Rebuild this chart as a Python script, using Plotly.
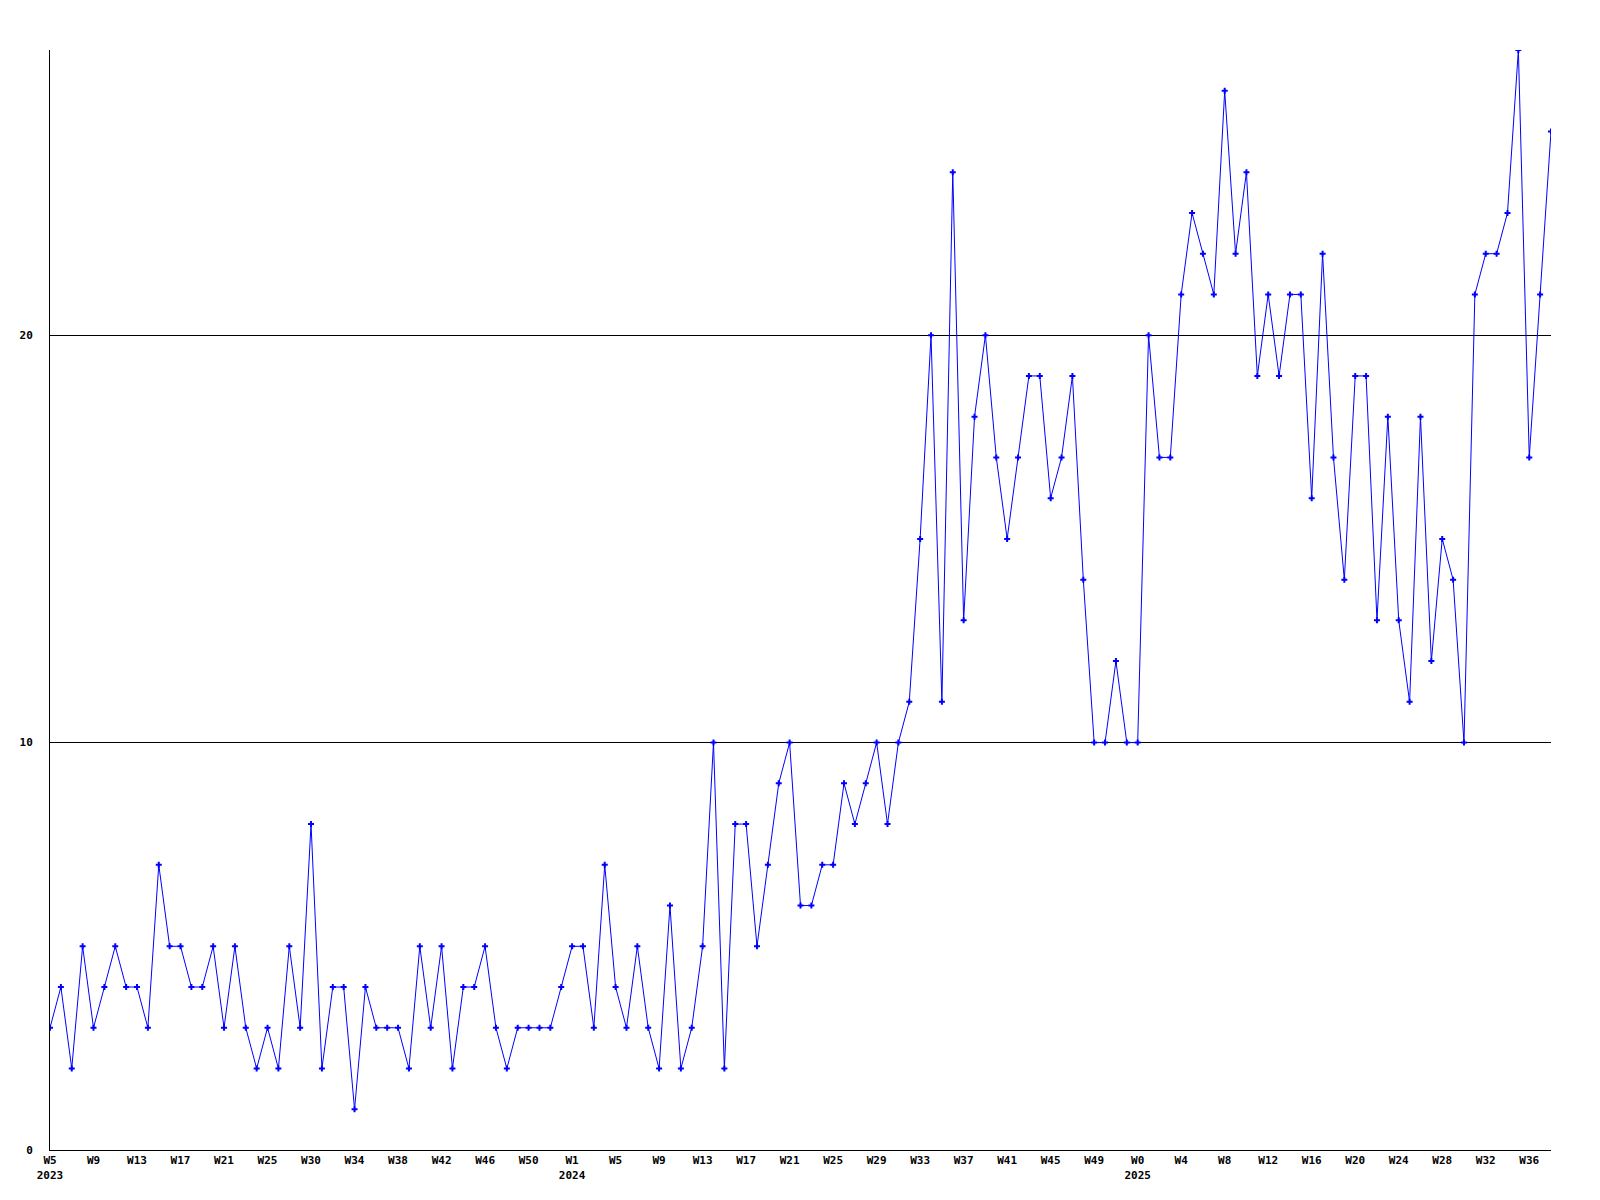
import plotly.graph_objects as go

# weekly counts, W5 2023 .. W38 2025
values = [
    3, 4, 2, 5, 3, 4, 5, 4, 4, 3,
    7, 5, 5, 4, 4, 5, 3, 5, 3, 2,
    3, 2, 5, 3, 8, 2, 4, 4, 1, 4,
    3, 3, 3, 2, 5, 3, 5, 2, 4, 4,
    5, 3, 2, 3, 3, 3, 3, 4, 5, 5,
    3, 7, 4, 3, 5, 3, 2, 6, 2, 3,
    5, 10, 2, 8, 8, 5, 7, 9, 10, 6,
    6, 7, 7, 9, 8, 9, 10, 8, 10, 11,
    15, 20, 11, 24, 13, 18, 20, 17, 15, 17,
    19, 19, 16, 17, 19, 14, 10, 10, 12, 10,
    10, 20, 17, 17, 21, 23, 22, 21, 26, 22,
    24, 19, 21, 19, 21, 21, 16, 22, 17, 14,
    19, 19, 13, 18, 13, 11, 18, 12, 15, 14,
    10, 21, 22, 22, 23, 27, 17, 21, 25,
]

# one label every 4th week
tick_labels = [
    "W5<br>2023", "W9", "W13", "W17", "W21", "W25", "W30", "W34", "W38",
    "W42", "W46", "W50",
    "W1<br>2024", "W5", "W9", "W13", "W17", "W21", "W25", "W29", "W33",
    "W37", "W41", "W45", "W49",
    "W0<br>2025", "W4", "W8", "W12", "W16", "W20", "W24", "W28", "W32", "W36",
]

x = list(range(len(values)))
tick_pos = x[::4][:len(tick_labels)]

font = dict(family="DejaVu Sans Mono", size=11, color="black", weight="bold")

fig = go.Figure()

fig.add_trace(go.Scatter(
    x=x,
    y=values,
    mode="lines+markers",
    line=dict(color="#0000ff", width=1),
    marker=dict(symbol="cross", size=5, color="#0000ff"),
    showlegend=False,
))

# page body has an 8px margin, so shift the plot area up/left
fig.update_layout(
    width=1600,
    height=1200,
    margin=dict(l=42, r=57, t=42, b=58),
    paper_bgcolor="white",
    plot_bgcolor="white",
    font=font,
)

fig.update_xaxes(
    range=[0, len(values) - 1],
    tickvals=tick_pos,
    ticktext=tick_labels,
    tickfont=font,
    showgrid=False,
    zeroline=False,
    showline=True,
    linecolor="black",
    linewidth=1,
    ticks="",
)

fig.update_yaxes(
    range=[0, 27],
    tickvals=[0, 10, 20],
    tickfont=font,
    showgrid=True,
    gridcolor="black",
    gridwidth=1,
    zeroline=False,
    showline=True,
    linecolor="black",
    linewidth=1,
    ticks="",
    ticklabelstandoff=14,
)

fig.write_html("out.html")
